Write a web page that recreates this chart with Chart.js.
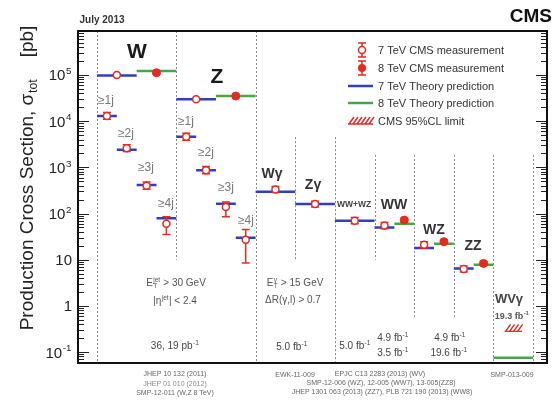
<!DOCTYPE html>
<html>
<head>
<meta charset="utf-8">
<script src="https://cdn.jsdelivr.net/npm/chart.js@4.4.0/dist/chart.umd.min.js"></script>
<style>
  html, body { margin: 0; padding: 0; background: #fff; }
  #wrap { width: 555px; height: 400px; }
</style>
</head>
<body>
<div id="wrap"><canvas id="c" width="555" height="400"></canvas></div>
<script>
// ---------------- cross sections [pb] ----------------
const cats7 = ['W', 'Z', 'W ≥1j', 'W ≥2j', 'W ≥3j', 'W ≥4j', 'Z ≥1j', 'Z ≥2j', 'Z ≥3j', 'Z ≥4j',
               'Wγ', 'Zγ', 'WW+WZ', 'WW', 'WZ', 'ZZ'];
const theory7 = [9.8e4, 3.0e4, 1.3e4, 2.4e3, 415, 79, 4.6e3, 870, 162, 30, 295, 160, 70, 50, 18, 6.4];
const meas7   = [1.0e5, 3.0e4, 1.3e4, 2.6e3, 400, 60, 4.6e3, 870, 139, 27, 330, 160, 70, 55, 21, 6.3];
const meas7Lo = [9.5e4, 2.85e4, 1.1e4, 2.2e3, 335, 35, 3.85e3, 730, 85, 8.5, 285, 138, 60, 47, 18, 5.4];
const meas7Hi = [1.05e5, 3.15e4, 1.55e4, 3.1e3, 480, 85, 5.5e3, 1040, 178, 45, 385, 185, 82, 64, 24.5, 7.3];

const cats8   = ['W', 'Z', 'WW', 'WZ', 'ZZ', 'WVγ'];
const theory8 = [1.22e5, 3.5e4, 60, 22, 7.8, 0.075];
const meas8   = [1.12e5, 3.5e4, 72, 24.5, 8.3, null];
const meas8Lo = [1.08e5, 3.4e4, 66, 22.5, 7.6, null];
const meas8Hi = [1.17e5, 3.6e4, 78, 26.5, 9.1, null];

const limitCats = ['WVγ'];
const limit95   = [0.28];

const yDecades = [-1, 0, 1, 2, 3, 4, 5];

// ---------------- layout: category slots on the x axis (bin units) ----------------
const slots7 = {
  'W': [0, 1], 'Z': [2, 3],
  'W ≥1j': [0, 0.5], 'W ≥2j': [0.5, 1], 'W ≥3j': [1, 1.5], 'W ≥4j': [1.5, 2],
  'Z ≥1j': [2, 2.5], 'Z ≥2j': [2.5, 3], 'Z ≥3j': [3, 3.5], 'Z ≥4j': [3.5, 4],
  'Wγ': [4, 5], 'Zγ': [5, 6], 'WW+WZ': [6, 7], 'WW': [7, 7.5], 'WZ': [8, 8.5], 'ZZ': [9, 9.5]
};
const slots8 = { 'W': [1, 2], 'Z': [3, 4], 'WW': [7.5, 8], 'WZ': [8.5, 9], 'ZZ': [9.5, 10], 'WVγ': [10, 11] };
const limitSlots = { 'WVγ': [10.28, 10.72] };

// dotted separators: [bin edge, from value (null = top), to value (null = bottom)]
const separators = [
  [0, null, null], [2, null, 10], [4, null, null], [5, 4500, 10], [6, 4500, null],
  [7, 1850, 10], [8, 1850, 0.57], [9, 1850, 0.57], [10, 1850, null], [11, 1850, null]
];

const X_MIN = -0.48, X_MAX = 11.35;
const Y_MIN = Math.pow(10, -1.238), Y_MAX = Math.pow(10, 5.953);

const RED = '#e52a1f', BLUE = '#2f3fbf', GREEN = '#45a845';
const FONT = '"Liberation Sans", Arial, Helvetica, sans-serif';
const font = (size, weight) => `${weight || 'normal'} ${size}px ${FONT}`;
const mid = s => (s[0] + s[1]) / 2;

function segments(cats, vals, slots) {
  const pts = [];
  cats.forEach((c, i) => {
    if (vals[i] == null) return;
    const s = slots[c];
    pts.push({ x: s[0], y: vals[i] }, { x: s[1], y: vals[i] }, { x: s[1], y: null });
  });
  return pts;
}
function points(cats, vals, slots) {
  return cats.map((c, i) => ({ x: mid(slots[c]), y: vals[i] })).filter(p => p.y != null);
}

// ---------------- rich text helper (super/subscripts) ----------------
function partsWidth(ctx, parts, size, weight) {
  let w = 0;
  for (const p of parts) {
    if (typeof p === 'string') { ctx.font = font(size, weight); w += ctx.measureText(p).width; }
    else {
      ctx.font = font(size * 0.65, weight);
      const a = p.sup ? ctx.measureText(p.sup).width : 0;
      const b = p.sub ? ctx.measureText(p.sub).width : 0;
      w += Math.max(a, b) + size * 0.08;
    }
  }
  return w;
}
function drawRich(ctx, x, y, parts, o) {
  const size = o.size, weight = o.weight || 'normal';
  const w = partsWidth(ctx, parts, size, weight);
  let cx = o.align === 'right' ? x - w : (o.align === 'left' ? x : x - w / 2);
  ctx.fillStyle = o.color || '#000';
  ctx.textAlign = 'left';
  ctx.textBaseline = 'alphabetic';
  for (const p of parts) {
    if (typeof p === 'string') {
      ctx.font = font(size, weight);
      ctx.fillText(p, cx, y);
      cx += ctx.measureText(p).width;
    } else {
      ctx.font = font(size * 0.65, weight);
      let adv = 0;
      if (p.sup) { ctx.fillText(p.sup, cx + size * 0.04, y - size * 0.42); adv = Math.max(adv, ctx.measureText(p.sup).width); }
      if (p.sub) { ctx.fillText(p.sub, cx + size * 0.04, y + size * 0.22); adv = Math.max(adv, ctx.measureText(p.sub).width); }
      cx += adv + size * 0.08;
    }
  }
}

// ---------------- annotations ----------------
const labels = [
  { t: ['W'], x: 137, y: 58, size: 21, weight: 'bold', color: '#1a1a1a' },
  { t: ['Z'], x: 217, y: 83, size: 21, weight: 'bold', color: '#1a1a1a' },
  { t: ['≥1j'], x: 106, y: 104, size: 12, color: '#777' },
  { t: ['≥2j'], x: 126, y: 137, size: 12, color: '#777' },
  { t: ['≥3j'], x: 146, y: 171, size: 12, color: '#777' },
  { t: ['≥4j'], x: 166, y: 207, size: 12, color: '#777' },
  { t: ['≥1j'], x: 186, y: 125, size: 12, color: '#777' },
  { t: ['≥2j'], x: 206, y: 156, size: 12, color: '#777' },
  { t: ['≥3j'], x: 226, y: 191, size: 12, color: '#777' },
  { t: ['≥4j'], x: 246, y: 224, size: 12, color: '#777' },
  { t: ['Wγ'], x: 272, y: 178, size: 14, weight: 'bold', color: '#333' },
  { t: ['Zγ'], x: 313, y: 189, size: 14, weight: 'bold', color: '#333' },
  { t: ['WW+WZ'], x: 354, y: 207, size: 8.5, weight: 'bold', color: '#444' },
  { t: ['WW'], x: 394, y: 209, size: 14, weight: 'bold', color: '#333' },
  { t: ['WZ'], x: 434, y: 234, size: 14, weight: 'bold', color: '#333' },
  { t: ['ZZ'], x: 473, y: 250, size: 14, weight: 'bold', color: '#333' },
  { t: ['WVγ'], x: 509, y: 303, size: 13, weight: 'bold', color: '#444' },
  { t: ['19.3 fb', { sup: '-1' }], x: 512, y: 319, size: 9, weight: 'bold', color: '#555' },

  { t: ['E', { sub: 'T', sup: 'jet' }, ' > 30 GeV'], x: 176, y: 286, size: 10, color: '#555' },
  { t: ['|η', { sup: 'jet' }, '| < 2.4'], x: 175, y: 304, size: 10, color: '#555' },
  { t: ['36, 19 pb', { sup: '-1' }], x: 175, y: 349, size: 10, color: '#444' },
  { t: ['E', { sub: 'T', sup: 'γ' }, ' > 15 GeV'], x: 295, y: 286, size: 10, color: '#555' },
  { t: ['ΔR(γ,l) > 0.7'], x: 293, y: 303, size: 10, color: '#555' },
  { t: ['5.0 fb', { sup: '-1' }], x: 292, y: 350, size: 10, color: '#444' },
  { t: ['5.0 fb', { sup: '-1' }], x: 355, y: 349, size: 10, color: '#444' },
  { t: ['4.9 fb', { sup: '-1' }], x: 393, y: 341, size: 10, color: '#444' },
  { t: ['3.5 fb', { sup: '-1' }], x: 393, y: 356, size: 10, color: '#444' },
  { t: ['4.9 fb', { sup: '-1' }], x: 450, y: 341, size: 10, color: '#444' },
  { t: ['19.6 fb', { sup: '-1' }], x: 449, y: 356, size: 10, color: '#444' },

  { t: ['JHEP 10 132 (2011)'], x: 175, y: 376, size: 7, color: '#666' },
  { t: ['JHEP 01 010 (2012)'], x: 175, y: 386, size: 7, color: '#888' },
  { t: ['SMP-12-011 (W,Z 8 TeV)'], x: 175, y: 395, size: 7, color: '#666' },
  { t: ['EWK-11-009'], x: 295, y: 377, size: 7, color: '#666' },
  { t: ['EPJC C13 2283 (2013) (WV)'], x: 380, y: 376, size: 7, color: '#666' },
  { t: ['SMP-12-006 (WZ), 12-005 (WW7), 13-005(ZZ8)'], x: 381, y: 385, size: 7, color: '#666' },
  { t: ['JHEP 1301 063 (2013) (ZZ7), PLB 721 190 (2013) (WW8)'], x: 382, y: 394, size: 7, color: '#666' },
  { t: ['SMP-013-009'], x: 512, y: 377, size: 7, color: '#666' },

  { t: ['July 2013'], x: 102, y: 23, size: 10, weight: 'bold', color: '#333' },
  { t: ['CMS'], x: 552, y: 22, size: 19, weight: 'bold', color: '#111', align: 'right' }
];

function drawHatch(ctx, x0, x1, y) {
  ctx.save();
  ctx.strokeStyle = RED;
  ctx.lineWidth = 1.4;
  ctx.beginPath();
  ctx.moveTo(x0, y); ctx.lineTo(x1, y);
  for (let x = x0 + 1; x < x1 - 3; x += 4) { ctx.moveTo(x, y); ctx.lineTo(x + 5, y - 7); }
  ctx.stroke();
  ctx.restore();
}
function drawErr(ctx, x, yl, yh, half) {
  ctx.beginPath();
  ctx.moveTo(x, yl); ctx.lineTo(x, yh);
  ctx.moveTo(x - half, yl); ctx.lineTo(x + half, yl);
  ctx.moveTo(x - half, yh); ctx.lineTo(x + half, yh);
  ctx.stroke();
}

const decorations = {
  id: 'decorations',
  beforeDatasetsDraw(chart) {
    const { ctx, chartArea: a, scales: { x, y } } = chart;
    ctx.save();
    // separators
    ctx.strokeStyle = '#8a8a8a';
    ctx.lineWidth = 1;
    ctx.setLineDash([2, 2]);
    for (const [u, v0, v1] of separators) {
      const px = Math.round(x.getPixelForValue(u)) + 0.5;
      const y0 = v0 == null ? a.top : y.getPixelForValue(v0);
      const y1 = v1 == null ? a.bottom : y.getPixelForValue(v1);
      ctx.beginPath(); ctx.moveTo(px, y0); ctx.lineTo(px, y1); ctx.stroke();
    }
    ctx.setLineDash([]);
    for (const l of labels) drawRich(ctx, l.x, l.y, l.t, l);
    ctx.restore();
  },
  beforeDatasetDraw(chart, args) {
    const ds = chart.data.datasets[args.index];
    if (!ds.errKey) return;
    const { ctx, scales: { x, y } } = chart;
    const cats = ds.errKey === 7 ? cats7 : cats8;
    const slots = ds.errKey === 7 ? slots7 : slots8;
    const lo = ds.errKey === 7 ? meas7Lo : meas8Lo;
    const hi = ds.errKey === 7 ? meas7Hi : meas8Hi;
    ctx.save();
    ctx.strokeStyle = RED;
    ctx.lineWidth = 1.5;
    cats.forEach((c, i) => {
      if (lo[i] == null) return;
      drawErr(ctx, x.getPixelForValue(mid(slots[c])), y.getPixelForValue(lo[i]), y.getPixelForValue(hi[i]), 4);
    });
    ctx.restore();
  },
  afterDatasetsDraw(chart) {
    const { ctx, scales: { x, y } } = chart;
    limitCats.forEach((c, i) => {
      const s = limitSlots[c];
      drawHatch(ctx, x.getPixelForValue(s[0]), x.getPixelForValue(s[1]), y.getPixelForValue(limit95[i]));
    });
  },
  afterDraw(chart) {
    const { ctx, chartArea: a, scales: { y } } = chart;
    ctx.save();
    // inward tick marks, both sides
    ctx.strokeStyle = '#222';
    ctx.lineWidth = 1;
    ctx.beginPath();
    for (let e = -2; e <= 6; e++) {
      for (let k = 1; k <= 9; k++) {
        const v = k * Math.pow(10, e);
        if (v < Y_MIN || v > Y_MAX) continue;
        const py = Math.round(y.getPixelForValue(v)) + 0.5;
        const len = k === 1 ? 11 : 6;
        ctx.moveTo(a.left, py); ctx.lineTo(a.left + len, py);
        ctx.moveTo(a.right, py); ctx.lineTo(a.right - len, py);
      }
    }
    ctx.stroke();
    // frame
    ctx.lineWidth = 2;
    ctx.strokeStyle = '#111';
    ctx.strokeRect(a.left, a.top, a.right - a.left, a.bottom - a.top);
    // decade labels
    for (const d of yDecades) {
      const py = y.getPixelForValue(Math.pow(10, d)) + 5.5;
      let parts;
      if (d === 0) parts = ['1'];
      else if (d === 1) parts = ['10'];
      else parts = ['10', { sup: String(d) }];
      drawRich(ctx, 72, py, parts, { size: 15, color: '#222', align: 'right' });
    }
    // axis title
    ctx.save();
    ctx.translate(33, 178);
    ctx.rotate(-Math.PI / 2);
    drawRich(ctx, 0, 0, ['Production Cross Section, σ', { sub: 'tot' }, '    [pb]'], { size: 19, color: '#222' });
    ctx.restore();
    // legend
    const lx = 362, ly = [50, 68, 86, 103, 121], tx = 378;
    ctx.strokeStyle = RED; ctx.lineWidth = 1.5;
    drawErr(ctx, lx, ly[0] - 7, ly[0] + 7, 4);
    ctx.beginPath(); ctx.arc(lx, ly[0], 3.5, 0, Math.PI * 2); ctx.fillStyle = '#fff'; ctx.fill(); ctx.stroke();
    drawErr(ctx, lx, ly[1] - 7, ly[1] + 7, 4);
    ctx.beginPath(); ctx.arc(lx, ly[1], 4, 0, Math.PI * 2); ctx.fillStyle = RED; ctx.fill();
    ctx.lineWidth = 2.5;
    ctx.strokeStyle = BLUE; ctx.beginPath(); ctx.moveTo(348, ly[2]); ctx.lineTo(373, ly[2]); ctx.stroke();
    ctx.strokeStyle = GREEN; ctx.beginPath(); ctx.moveTo(348, ly[3]); ctx.lineTo(373, ly[3]); ctx.stroke();
    drawHatch(ctx, 348, 373, ly[4] + 3);
    const legendText = ['7 TeV CMS measurement', '8 TeV CMS measurement', '7 TeV Theory prediction',
                        '8 TeV Theory prediction', 'CMS 95%CL limit'];
    legendText.forEach((t, i) => drawRich(ctx, tx, ly[i] + 4, [t], { size: 11, color: '#333', align: 'left' }));
    ctx.restore();
  }
};

new Chart(document.getElementById('c'), {
  type: 'scatter',
  data: {
    datasets: [
      { label: '8 TeV CMS measurement', errKey: 8, data: points(cats8, meas8, slots8),
        pointRadius: 4, pointBackgroundColor: RED, pointBorderColor: RED, pointBorderWidth: 1, showLine: false },
      { label: '7 TeV CMS measurement', errKey: 7, data: points(cats7, meas7, slots7),
        pointRadius: 3.5, pointBackgroundColor: '#fff', pointBorderColor: RED, pointBorderWidth: 1.5, showLine: false },
      { label: '8 TeV Theory prediction', data: segments(cats8, theory8, slots8), showLine: true, spanGaps: false,
        borderColor: GREEN, borderWidth: 2.5, pointRadius: 0, borderCapStyle: 'butt' },
      { label: '7 TeV Theory prediction', data: segments(cats7, theory7, slots7), showLine: true, spanGaps: false,
        borderColor: BLUE, borderWidth: 2.5, pointRadius: 0, borderCapStyle: 'butt' }
    ]
  },
  options: {
    responsive: false,
    animation: false,
    events: [],
    layout: { padding: { left: 78, right: 8, top: 31, bottom: 37 } },
    scales: {
      x: { type: 'linear', min: X_MIN, max: X_MAX, display: false },
      y: { type: 'logarithmic', min: Y_MIN, max: Y_MAX, display: false }
    },
    plugins: { legend: { display: false }, tooltip: { enabled: false } }
  },
  plugins: [decorations]
});
</script>
</body>
</html>
